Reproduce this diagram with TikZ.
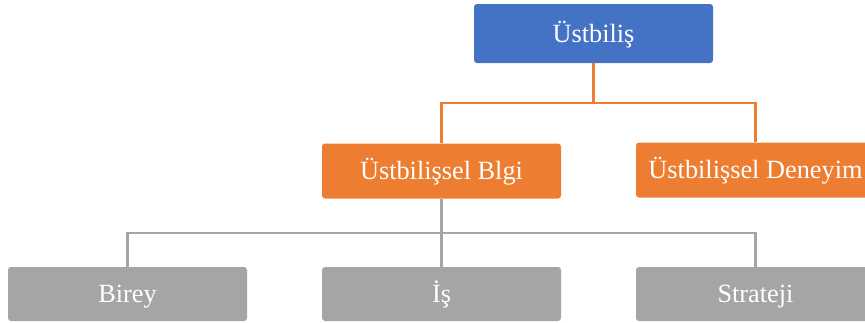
\documentclass[tikz,border=0pt]{standalone}
\usepackage{fontspec}
\setmainfont{Liberation Serif}
\definecolor{cblue}{HTML}{4472C4}
\definecolor{corange}{HTML}{ED7D31}
\definecolor{cgray}{HTML}{A5A5A5}
\begin{document}
\begin{tikzpicture}[x=1pt,y=-1pt,
  boxbase/.style={rounded corners=3pt, minimum width=239pt, text=white, font=\fontsize{26.3}{29}\selectfont, inner sep=0pt, text height=17.4pt, text depth=0pt},
  bluebox/.style={boxbase, fill=cblue, minimum height=59pt},
  orangebox/.style={boxbase, fill=corange, minimum height=55pt},
  graybox/.style={boxbase, fill=cgray, minimum height=54pt},
  olink/.style={draw=corange, line width=2.8pt},
  glink/.style={draw=cgray, line width=2.8pt}]
\useasboundingbox (0,0) rectangle (865,322);
\clip (0,0) rectangle (865,322);
\node[bluebox] (top) at (593.5,33.5) {Üstbiliş};
\node[orangebox] (blgi) at (441.5,171) {Üstbilişsel Blgi};
\node[orangebox] (deney) at (755.5,170) {Üstbilişsel Deneyim};
\node[graybox] (birey) at (127.5,294) {Birey};
\node[graybox] (is) at (441.5,294) {İş};
\node[graybox] (strat) at (755.5,294) {Strateji};
\coordinate (ob) at (593.5,103);
\coordinate (gb) at (441.5,233);
\draw[olink] (top.south) -- (ob);
\draw[olink] (ob) -| (blgi.north);
\draw[olink] (ob) -| (deney.north);
\draw[glink] (blgi.south) -- (is.north);
\draw[glink] (gb) -| (birey.north);
\draw[glink] (gb) -| (strat.north);
\end{tikzpicture}
\end{document}
